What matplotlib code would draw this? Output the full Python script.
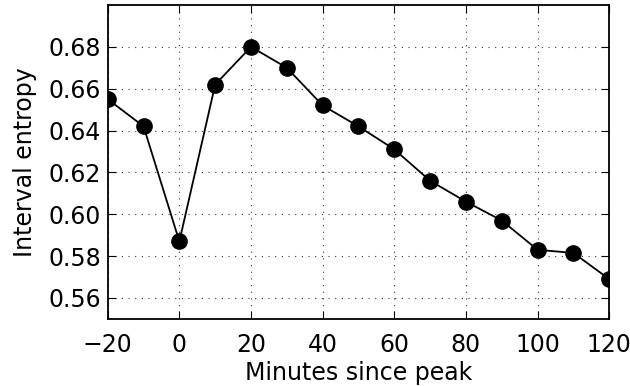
import matplotlib
matplotlib.use('Agg')
import matplotlib.pyplot as plt

minutes = [-20, -10, 0, 10, 20, 30, 40, 50, 60, 70, 80, 90, 100, 110, 120]
entropy = [0.655, 0.642, 0.587, 0.662, 0.680, 0.670, 0.652, 0.642, 0.631,
           0.616, 0.606, 0.597, 0.583, 0.5815, 0.569]

plt.rcParams['font.size'] = 17
fig = plt.figure(figsize=(6.3, 3.86), dpi=100)
ax = fig.add_axes([0.171, 0.174, 0.796, 0.813])

ax.plot(minutes, entropy, color='black', linewidth=1.3, marker='o',
        markersize=11, markerfacecolor='black', markeredgecolor='black')

ax.set_xlim(-20, 120)
ax.set_ylim(0.55, 0.70)
ax.set_xticks(range(-20, 121, 20))
ax.set_yticks([0.56, 0.58, 0.60, 0.62, 0.64, 0.66, 0.68])
ax.grid(True, color='#333333', linestyle=(0, (1, 5)), linewidth=0.8)
ax.tick_params(direction='in', top=True, right=True, length=6, width=0.8)
ax.tick_params(axis='x', pad=10)
ax.tick_params(axis='y', pad=5)
for s in ax.spines.values():
    s.set_linewidth(1.3)

ax.set_xlabel('Minutes since peak', labelpad=3)
ax.set_ylabel('Interval entropy', labelpad=8)

fig.savefig('out.png', dpi=100)
